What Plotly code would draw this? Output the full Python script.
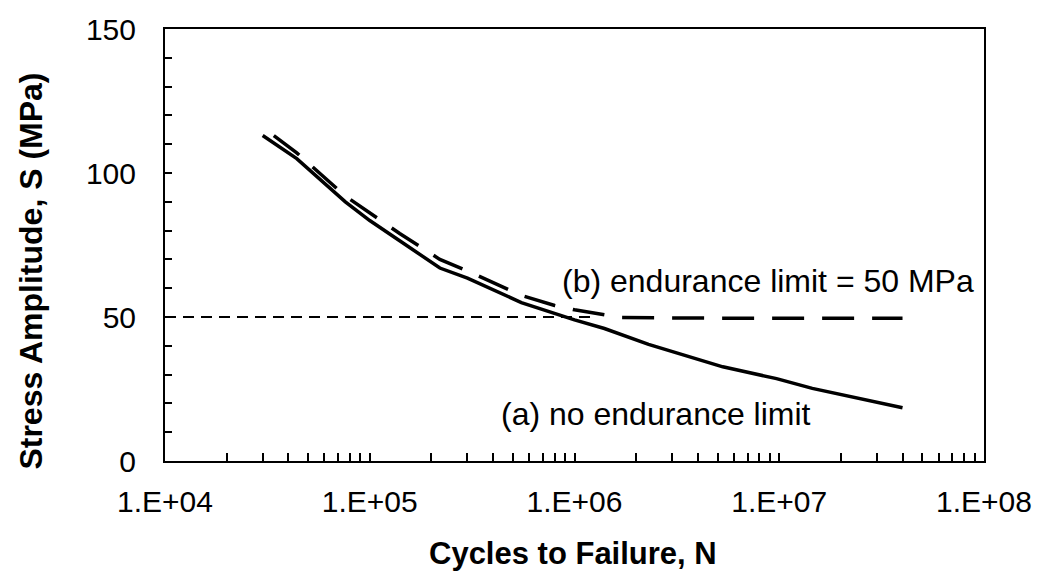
import plotly.graph_objects as go

# (a) no endurance limit
n_a = [3.0e4, 4.4e4, 7.6e4, 1.0e5, 1.4e5, 2.2e5, 3.0e5, 5.5e5, 1.0e6, 1.4e6,
       2.3e6, 5.3e6, 9.7e6, 1.45e7, 4.0e7]
s_a = [113, 105, 90, 83.5, 76.5, 67, 63.5, 55, 49, 46, 40.5, 32.7, 28.6, 25.2, 18.5]

# (b) endurance limit = 50 MPa
n_b = [3.4e4, 4.4e4, 7.6e4, 1.0e5, 1.4e5, 2.2e5, 3.0e5, 5.5e5, 8.0e5, 1.0e6,
       1.3e6, 1.7e6, 5.0e6, 1.0e7, 4.0e7]
s_b = [113, 107, 92, 86, 79, 70, 66, 57.5, 54, 52.5, 51.3, 49.8, 49.6, 49.6, 49.6]

# thin reference line at the endurance limit
n_ref = [1.0e4, 1.2e6]
s_ref = [50, 50]

x_ticks = [1e4, 1e5, 1e6, 1e7, 1e8]
x_labels = ["1.E+04", "1.E+05", "1.E+06", "1.E+07", "1.E+08"]
y_ticks = [0, 50, 100, 150]
x_minor = [k * 10 ** d for d in range(4, 8) for k in range(2, 10)]

FONT = "Liberation Sans, Arial, sans-serif"

fig = go.Figure()
fig.add_trace(go.Scatter(x=n_ref, y=s_ref, mode="lines",
                         line=dict(color="black", width=2, dash="11px,7px"),
                         showlegend=False))
fig.add_trace(go.Scatter(x=n_a, y=s_a, mode="lines",
                         line=dict(color="black", width=3.5),
                         showlegend=False))
fig.add_trace(go.Scatter(x=n_b, y=s_b, mode="lines",
                         line=dict(color="black", width=3.5, dash="32px,18px"),
                         showlegend=False))

fig.update_layout(
    width=1044, height=580,
    margin=dict(l=165, r=55, t=20, b=119),
    paper_bgcolor="white", plot_bgcolor="white",
    font=dict(family=FONT, size=30, color="black"),
    showlegend=False,
)
fig.update_xaxes(
    type="log", range=[4, 8],
    tickmode="array", tickvals=x_ticks, ticktext=x_labels,
    ticks="inside", ticklen=8, tickwidth=1.5, tickcolor="black",
    minor=dict(tickmode="array", tickvals=x_minor, ticks="inside",
               ticklen=8, tickwidth=1.5, tickcolor="black", showgrid=False),
    showline=True, linecolor="black", linewidth=2, mirror=True,
    showgrid=False, zeroline=False,
    tickfont=dict(size=30), ticklabelstandoff=13,
)
fig.update_yaxes(
    range=[0, 150],
    tickmode="array", tickvals=y_ticks,
    ticks="inside", ticklen=7, tickwidth=1.5, tickcolor="black",
    minor=dict(dtick=10, ticks="inside", ticklen=7, tickwidth=1.5,
               tickcolor="black", showgrid=False),
    showline=True, linecolor="black", linewidth=2, mirror=True,
    showgrid=False, zeroline=False,
    tickfont=dict(size=30), ticklabelstandoff=21,
)

fig.add_annotation(text="<b>Cycles to Failure, N</b>", xref="paper", yref="paper",
                   x=0.498, y=-0.213, xanchor="center", yanchor="middle",
                   showarrow=False, font=dict(size=31))
fig.add_annotation(text="<b>Stress Amplitude, S (MPa)</b>", xref="paper", yref="paper",
                   x=-0.164, y=0.44, xanchor="center", yanchor="middle",
                   textangle=-90, showarrow=False, font=dict(size=32))
fig.add_annotation(text="(b) endurance limit = 50 MPa", xref="paper", yref="paper",
                   x=0.99, y=0.417, xanchor="right", yanchor="middle",
                   showarrow=False, font=dict(size=32))
fig.add_annotation(text="(a) no endurance limit", xref="paper", yref="paper",
                   x=0.408, y=0.109, xanchor="left", yanchor="middle",
                   showarrow=False, font=dict(size=32))

fig.write_html("out.html")
